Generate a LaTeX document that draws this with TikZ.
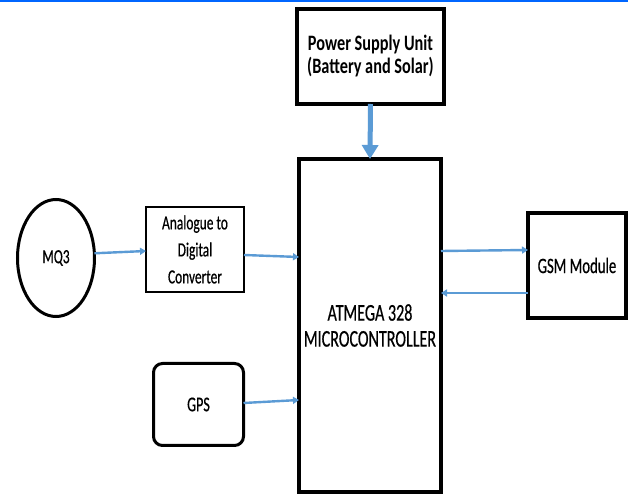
\documentclass[tikz,border=0pt]{standalone}
\usepackage{fontspec}
\setmainfont{Carlito}[FakeStretch=0.67,FakeBold=0.5]
\newfontfamily\psufont{Carlito}[FakeStretch=0.74]
\usetikzlibrary{arrows.meta,shapes.geometric}
\definecolor{arrowblue}{RGB}{91,155,213}
\definecolor{topblue}{RGB}{0,102,255}
\tikzset{
  boxnode/.style={draw=black, fill=white, inner sep=0pt, outer sep=0pt, align=center},
  thinarrow/.style={draw=arrowblue, line width=2.4pt, -{Triangle[length=6pt,width=7pt]}},
  thickarrow/.style={draw=arrowblue, line width=5pt, -{Triangle[length=14pt,width=16pt]}}
}
\begin{document}
\begin{tikzpicture}[x=1pt,y=-1pt]
\useasboundingbox (0,0) rectangle (633,497);
\fill[white] (0,0) rectangle (633,497);
\draw[topblue, line width=2.2pt] (0,1.2) -- (628,1.2);

\node[boxnode, line width=4pt, minimum width=147pt, minimum height=95pt,
      font={\psufont\bfseries\fontsize{22}{23}\selectfont}] (psu) at (370.5,56.5)
      {Power Supply Unit\\(Battery and Solar)};

\node[boxnode, line width=4pt, minimum width=142pt, minimum height=333pt,
      font={\fontsize{24}{26}\selectfont}] (micro) at (370,325.5)
      {ATMEGA 328\\MICROCONTROLLER};

\node[boxnode, ellipse, line width=3pt, minimum width=77pt, minimum height=117pt,
      font={\fontsize{20}{24}\selectfont}] (mq3) at (56,258) {MQ3};

\node[boxnode, line width=2pt, minimum width=98pt, minimum height=85pt,
      font={\fontsize{20}{27}\selectfont}] (adc) at (195,249.5)
      {Analogue to\\Digital\\Converter};

\node[boxnode, line width=4pt, minimum width=98pt, minimum height=105pt,
      font={\fontsize{22}{26}\selectfont}] (gsm) at (577,265.5) {GSM Module};

\node[boxnode, rounded corners=9pt, line width=3pt, minimum width=90pt, minimum height=82pt,
      font={\fontsize{21}{25}\selectfont}] (gps) at (198.5,404.5) {GPS};

\draw[thickarrow] (psu.south) -- (micro.north);
\draw[thinarrow] (mq3.7) -- ([yshift=-1.5pt]adc.west);
\draw[thinarrow] ([yshift=-5.5pt]adc.east) -- ([yshift=68.5pt]micro.west);
\draw[thinarrow] ([yshift=74.5pt]micro.east) -- ([yshift=15.5pt]gsm.west);
\draw[thinarrow] ([yshift=-27.5pt]gsm.west) -- ([yshift=32.5pt]micro.east);
\draw[thinarrow] ([yshift=1.5pt]gps.east) -- ([yshift=-74.5pt]micro.west);
\end{tikzpicture}
\end{document}
